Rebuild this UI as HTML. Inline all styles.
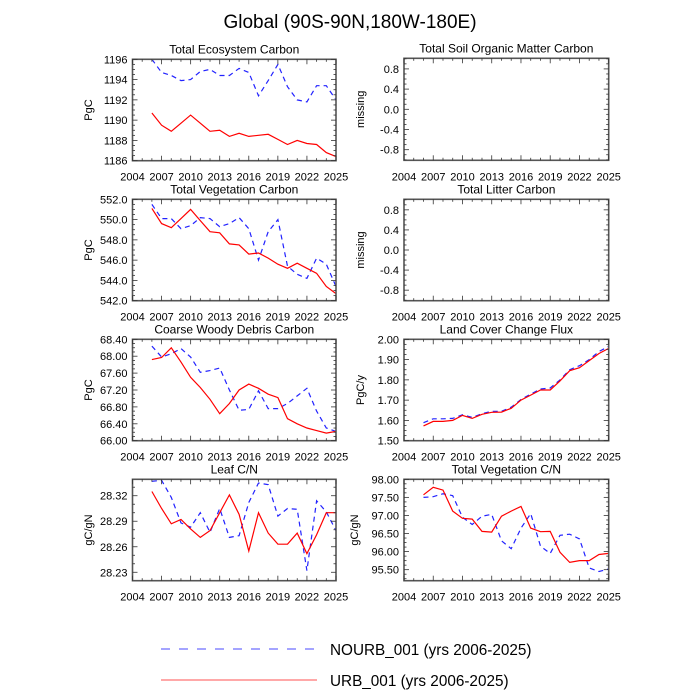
<!DOCTYPE html>
<html><head><meta charset="utf-8"><style>
body{margin:0;background:#fff;}
svg{display:block;font-family:"Liberation Sans",Arial,sans-serif;}
</style></head><body>
<svg id="chart" width="700" height="700" viewBox="0 0 700 700" xmlns="http://www.w3.org/2000/svg">
<text x="350" y="28" font-size="19" text-anchor="middle">Global (90S-90N,180W-180E)</text>
<g id="panels"></g>
<line x1="161" y1="649" x2="317" y2="649" stroke="#4848ff" stroke-width="1" stroke-dasharray="9,9"/>
<text x="330" y="655" font-size="15.3">NOURB_001 (yrs 2006-2025)</text>
<line x1="161" y1="680" x2="317" y2="680" stroke="#ff5050" stroke-width="1"/>
<text x="330" y="686" font-size="15.3">URB_001 (yrs 2006-2025)</text>
</svg>
<script>
const years = [2006,2007,2008,2009,2010,2011,2012,2013,2014,2015,2016,2017,2018,2019,2020,2021,2022,2023,2024,2025];
const xTicks = [2004,2007,2010,2013,2016,2019,2022,2025];
const ecoBlue = [1196,1194.7,1194.4,1193.9,1194.0,1194.8,1195.0,1194.4,1194.4,1195.1,1194.7,1192.4,1193.9,1195.5,1193.3,1192.0,1191.8,1193.4,1193.4,1192.0];
const ecoRed = [1190.7,1189.5,1188.9,1189.7,1190.5,1189.7,1188.9,1189.0,1188.4,1188.7,1188.4,1188.5,1188.6,1188.1,1187.6,1188.0,1187.7,1187.6,1186.8,1186.4];
const vegBlue = [551.5,550.1,550.1,549.1,549.4,550.2,550.1,549.3,549.6,550.2,549.1,546.0,548.8,550.0,545.4,544.6,544.2,546.2,545.6,543.4];
const vegRed = [551.1,549.6,549.2,550.1,551.0,549.9,548.8,548.7,547.6,547.5,546.6,546.7,546.2,545.6,545.2,545.7,545.2,544.7,543.4,542.7];
const cwdBlue = [68.24,67.98,68.06,68.18,67.98,67.62,67.66,67.72,67.2,66.72,66.74,67.18,66.76,66.76,66.88,67.06,67.24,66.7,66.3,66.22];
const cwdRed = [67.92,67.97,68.2,67.86,67.5,67.26,66.98,66.64,66.88,67.2,67.34,67.24,67.1,67.02,66.52,66.4,66.3,66.24,66.18,66.22];
const leafBlue = [28.337,28.338,28.318,28.288,28.283,28.300,28.277,28.305,28.271,28.273,28.312,28.335,28.333,28.296,28.305,28.304,28.232,28.314,28.301,28.279];
const leafRed = [28.325,28.305,28.287,28.292,28.281,28.271,28.279,28.300,28.321,28.298,28.255,28.300,28.276,28.263,28.263,28.276,28.252,28.274,28.300,28.300];
const lccBlue = [1.589,1.608,1.608,1.610,1.628,1.615,1.633,1.645,1.645,1.665,1.703,1.730,1.755,1.760,1.800,1.850,1.870,1.900,1.940,1.965];
const lccRed = [1.573,1.595,1.595,1.600,1.625,1.610,1.630,1.640,1.641,1.660,1.700,1.725,1.750,1.750,1.795,1.845,1.860,1.895,1.930,1.955];
const vcnBlue = [97.5,97.52,97.6,97.55,96.95,96.75,96.98,97.03,96.3,96.08,96.65,97.05,96.15,95.95,96.45,96.48,96.35,95.55,95.45,95.52];
const vcnRed = [97.57,97.78,97.7,97.12,96.92,96.9,96.56,96.54,96.98,97.12,97.25,96.65,96.55,96.56,95.98,95.7,95.75,95.75,95.92,95.95];
const ecoTicks = [1186,1188,1190,1192,1194,1196];
const vegTicks = [542,544,546,548,550,552];
const cwdTicks = [66.0,66.4,66.8,67.2,67.6,68.0,68.4];
const leafTicks = [28.23,28.26,28.29,28.32];
const lccTicks = [1.5,1.6,1.7,1.8,1.9,2.0];
const vcnTicks = [95.5,96.0,96.5,97.0,97.5,98.0];
const missTicks = [-0.8,-0.4,0.0,0.4,0.8];

const NS="http://www.w3.org/2000/svg";
const root=document.getElementById('panels');
function mk(tag,attrs,parent){const e=document.createElementNS(NS,tag);for(const k in attrs)e.setAttribute(k,attrs[k]);(parent||root).appendChild(e);return e;}

const panels=[
 {name:'total-ecosystem-carbon',title:'Total Ecosystem Carbon',x0:132.5,x1:336,y0:59.3,y1:160.7,ymin:1186,ymax:1196,ticks:ecoTicks,dec:0,ylab:'PgC',ylx:92,blue:ecoBlue,red:ecoRed,minor:4},
 {name:'total-vegetation-carbon',title:'Total Vegetation Carbon',x0:132.5,x1:336,y0:199.3,y1:300.7,ymin:542,ymax:552,ticks:vegTicks,dec:1,ylab:'PgC',ylx:92,blue:vegBlue,red:vegRed,minor:4},
 {name:'coarse-woody-debris-carbon',title:'Coarse Woody Debris Carbon',x0:132.5,x1:336,y0:339.3,y1:440.7,ymin:66.0,ymax:68.4,ticks:cwdTicks,dec:2,ylab:'PgC',ylx:92,blue:cwdBlue,red:cwdRed,minor:4},
 {name:'leaf-cn',title:'Leaf C/N',x0:132.5,x1:336,y0:479.3,y1:580.7,ymin:28.2201,ymax:28.3393,ticks:leafTicks,dec:2,ylab:'gC/gN',ylx:92,blue:leafBlue,red:leafRed,minor:3},
 {name:'total-soil-organic-matter-carbon',title:'Total Soil Organic Matter Carbon',x0:404,x1:608.7,y0:58.3,y1:160.3,ymin:-1.01,ymax:1.01,ticks:missTicks,dec:1,ylab:'missing',ylx:364,blue:null,red:null,minor:4},
 {name:'total-litter-carbon',title:'Total Litter Carbon',x0:404,x1:608.7,y0:199.3,y1:300.7,ymin:-1.01,ymax:1.01,ticks:missTicks,dec:1,ylab:'missing',ylx:364,blue:null,red:null,minor:4},
 {name:'land-cover-change-flux',title:'Land Cover Change Flux',x0:404,x1:608.7,y0:339.3,y1:440.7,ymin:1.5,ymax:2.0,ticks:lccTicks,dec:2,ylab:'PgC/y',ylx:364,blue:lccBlue,red:lccRed,minor:4},
 {name:'total-vegetation-cn',title:'Total Vegetation C/N',x0:404,x1:608.7,y0:479.3,y1:580.7,ymin:95.195,ymax:98.0,ticks:vcnTicks,dec:2,ylab:'gC/gN',ylx:358,blue:vcnBlue,red:vcnRed,minor:4}
];

panels.forEach(p=>{
 const g=mk('g',{});
 
 
 const xs=v=>p.x0+(v-2004)/(2025-2004)*(p.x1-p.x0);
 const ys=v=>p.y1-(v-p.ymin)/(p.ymax-p.ymin)*(p.y1-p.y0);
 const t=mk('text',{x:(p.x0+p.x1)/2,y:p.y0-6,'font-size':12,'text-anchor':'middle'},g);t.textContent=p.title;
 
 
 [[p.blue,'#2222ff','5,4','nourb'],[p.red,'#ff0000','','urb']].forEach(([d,c,da,nm])=>{
  if(!d)return;
  const pts=d.map((v,i)=>xs(years[i]).toFixed(1)+','+ys(v).toFixed(1)).join(' ');
  const l=mk('polyline',{points:pts,fill:'none',stroke:c,'stroke-width':1.2,'stroke-dasharray':da},g);
  
  
 });
 const f=mk('rect',{x:p.x0,y:p.y0,width:p.x1-p.x0,height:p.y1-p.y0,fill:'none',stroke:'#555','stroke-width':1.6},g);
 
 
 for(let yr=2004;yr<=2025;yr++){
  const x=xs(yr),len=xTicks.includes(yr)?5:2.5;
  mk('line',{x1:x,y1:p.y1,x2:x,y2:p.y1-len,stroke:'#333','stroke-width':0.8},g);
  mk('line',{x1:x,y1:p.y0,x2:x,y2:p.y0+len,stroke:'#333','stroke-width':0.8},g);
 }
 xTicks.forEach(yr=>{
  const tx=mk('text',{x:xs(yr),y:p.y1+20,'font-size':11,'text-anchor':'middle'},g);tx.textContent=yr;
  
  
 });
 const step=p.ticks[1]-p.ticks[0];
 for(let k=-p.minor*2;k<=(p.ticks.length+1)*p.minor;k++){
  const v=p.ticks[0]+k*step/p.minor;
  if(v<p.ymin-1e-9||v>p.ymax+1e-9)continue;
  const y=ys(v),len=(k%p.minor===0)?5:2.5;
  mk('line',{x1:p.x0,y1:y,x2:p.x0+len,y2:y,stroke:'#333','stroke-width':0.8},g);
  mk('line',{x1:p.x1,y1:y,x2:p.x1-len,y2:y,stroke:'#333','stroke-width':0.8},g);
 }
 p.ticks.forEach(v=>{
  const ty=mk('text',{x:p.x0-5,y:ys(v)+4,'font-size':11,'text-anchor':'end'},g);ty.textContent=v.toFixed(p.dec);
  
  
 });
 const yl=mk('text',{x:p.ylx,y:(p.y0+p.y1)/2,'font-size':11,'text-anchor':'middle',transform:`rotate(-90 ${p.ylx} ${(p.y0+p.y1)/2})`},g);yl.textContent=p.ylab;
 
 
});
</script>
</body></html>
